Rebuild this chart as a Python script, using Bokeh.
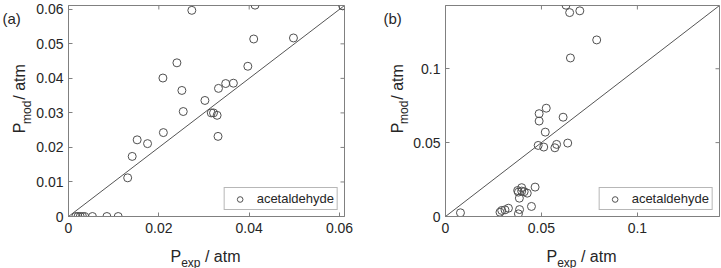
import math
from bokeh.plotting import figure
from bokeh.layouts import row, column
from bokeh.models import Range1d, LinearAxis, FixedTicker, Slope, Legend
from bokeh.core.properties import value
from bokeh.embed import file_html
from bokeh.resources import INLINE

# ---------------- data ----------------
series_name = "acetaldehyde"

# panel (a)
pexp_a = [0.0273, 0.0413, 0.0607, 0.0410, 0.0498, 0.0240, 0.0209, 0.0397, 0.0332, 0.0348,
          0.0365, 0.0251, 0.0302, 0.0254, 0.0316, 0.0321, 0.0329, 0.0331, 0.0210, 0.0152,
          0.0175, 0.0141, 0.0131, 0.0016, 0.0021, 0.0026, 0.0031, 0.0036, 0.0053, 0.0085,
          0.0110]
pmod_a = [0.0597, 0.0612, 0.0610, 0.0514, 0.0517, 0.0445, 0.0401, 0.0435, 0.0371, 0.0385,
          0.0386, 0.0365, 0.0336, 0.0304, 0.0300, 0.0300, 0.0293, 0.0232, 0.0243, 0.0222,
          0.0211, 0.0174, 0.0112, 0.0, 0.0, 0.0, 0.0, 0.0, 0.0, 0.0,
          0.0]
lim_a = 0.0611
xticks_a = [0, 0.02, 0.04, 0.06]
xlabels_a = ["0", "0.02", "0.04", "0.06"]
yticks_a = [0, 0.01, 0.02, 0.03, 0.04, 0.05, 0.06]
ylabels_a = ["0", "0.01", "0.02", "0.03", "0.04", "0.05", "0.06"]

# panel (b)
pexp_b = [0.0628, 0.0647, 0.0700, 0.0788, 0.0651, 0.0525, 0.0488, 0.0488, 0.0613, 0.0520,
          0.0483, 0.0512, 0.0570, 0.0579, 0.0637, 0.0397, 0.0376, 0.0380, 0.0397, 0.0410,
          0.0426, 0.0385, 0.0467, 0.0448, 0.0386, 0.0380, 0.0328, 0.0310, 0.0293, 0.0284,
          0.0078]
pmod_b = [0.1430, 0.1380, 0.1392, 0.1195, 0.1073, 0.0733, 0.0696, 0.0646, 0.0672, 0.0571,
          0.0481, 0.0470, 0.0465, 0.0488, 0.0497, 0.0195, 0.0176, 0.0165, 0.0172, 0.0168,
          0.0158, 0.0124, 0.0199, 0.0068, 0.0047, 0.0018, 0.0056, 0.0045, 0.0041, 0.0029,
          0.0025]
lim_b = 0.1428
ticks_b = [0, 0.05, 0.1]
labels_b = ["0", "0.05", "0.1"]

x_title = ["P", "exp", "/ atm"]
y_title = ["P", "mod", "/ atm"]
panel_tags = ["(a)", "(b)"]

FONT = "Liberation Sans"
TXT = "#262626"
AX = "#808080"
MK = "#505050"

H_MAIN = 241
H_ALL = 268


def blank(width, height, x0, x1, y0, y1):
    f = figure(width=width, height=height, output_backend="svg", toolbar_location=None,
               x_range=Range1d(x0, x1), y_range=Range1d(y0, y1),
               min_border=0, x_axis_type=None, y_axis_type=None,
               background_fill_color="white", border_fill_color="white")
    f.grid.visible = False
    f.outline_line_color = None
    return f


def txt(f, x, y, s, size, angle=0.0):
    f.text(x=[x], y=[y], text=[s], text_font=value(FONT), text_font_size=size,
           text_color=TXT, text_align="left", text_baseline="alphabetic", angle=angle)


def main_panel(xs, ys, lim, xt, xl, yt, yl, width, bl, br):
    p = figure(width=width, height=H_MAIN, output_backend="svg", toolbar_location=None,
               x_range=Range1d(0, lim), y_range=Range1d(0, lim),
               min_border_left=bl, min_border_right=br,
               min_border_top=5, min_border_bottom=H_MAIN - 216,
               background_fill_color="white", border_fill_color="white",
               x_axis_type=None, y_axis_type=None)
    p.grid.visible = False
    p.outline_line_color = AX
    p.outline_line_width = 1

    def axis(ticks, labels, standoff):
        a = LinearAxis(ticker=FixedTicker(ticks=ticks),
                       major_label_overrides={t: s for t, s in zip(ticks, labels)})
        a.axis_line_color = AX
        a.major_tick_line_color = AX
        a.major_tick_in = 4
        a.major_tick_out = 0
        a.minor_tick_line_color = None
        a.major_label_text_font = FONT
        a.major_label_text_font_size = "14px"
        a.major_label_text_color = TXT
        a.major_label_standoff = standoff
        return a

    p.add_layout(axis(xt, xl, 6), "below")
    p.add_layout(axis(yt, yl, 5), "left")

    # inner ticks on the top and right edges of the box
    p.scatter(xt, [lim] * len(xt), marker="dash", size=8, angle=math.pi / 2,
              line_color=AX, line_width=1)
    p.scatter([lim] * len(yt), yt, marker="dash", size=8,
              line_color=AX, line_width=1)

    p.add_layout(Slope(gradient=1, y_intercept=0, line_color="#555555", line_width=1))

    r = p.scatter(xs, ys, marker="circle", size=8, fill_color=None,
                  line_color=MK, line_width=1)
    leg = Legend(items=[(series_name, [r])], location="bottom_right")
    leg.margin = 6
    leg.padding = 3
    leg.spacing = 0
    leg.glyph_width = 24
    leg.glyph_height = 14
    leg.label_height = 14
    leg.label_standoff = 5
    leg.label_text_font = FONT
    leg.label_text_font_size = "13px"
    leg.label_text_color = TXT
    leg.border_line_color = "#707070"
    leg.border_line_width = 1
    p.add_layout(leg, "center")
    return p


def side_strip(x0, w, ylab_x, frame_cy, tag_x, tag):
    # left strip: canvas pixel coordinates (y downward)
    f = blank(w, H_MAIN, x0, x0 + w, H_MAIN, 0)
    wP, wsub, wsp = 10.7, 23.3, 4.4
    wat = 35.6
    total = wP + wsub + wsp + wat
    s = frame_cy + total / 2 - 1.5
    txt(f, ylab_x, s, y_title[0], "16px", math.pi / 2)
    txt(f, ylab_x + 7, s - wP, y_title[1], "12px", math.pi / 2)
    txt(f, ylab_x, s - wP - wsub - wsp, y_title[2], "16px", math.pi / 2)
    txt(f, tag_x, 14.5, tag, "15px")
    return f


def bottom_strip(x0, w, frame_cx):
    f = blank(w, H_ALL - H_MAIN, x0, x0 + w, H_ALL, H_MAIN)
    wP, wsub, wsp, wat = 10.7, 19.3, 4.4, 35.6
    total = wP + wsub + wsp + wat
    s = frame_cx - total / 2
    txt(f, s, 256, x_title[0], "16px")
    txt(f, s + wP, 262, x_title[1], "12px")
    txt(f, s + wP + wsub + wsp, 256, x_title[2], "16px")
    return f


# panel (a): canvas x 0..360, frame 66..344
la = side_strip(0, 33, 19, 110.5, 2, panel_tags[0])
ma = main_panel(pexp_a, pmod_a, lim_a, xticks_a, xlabels_a, yticks_a, ylabels_a,
                327, 66 - 33, 16)
ba = bottom_strip(0, 360, (66 + 344) / 2)

# panel (b): canvas x 360..721, frame 443..719
lb = side_strip(360, 50, 396.5, 110.5, 383, panel_tags[1])
mb = main_panel(pexp_b, pmod_b, lim_b, ticks_b, labels_b, ticks_b, labels_b,
                311, 443 - 410, 2)
bb = bottom_strip(360, 361, (443 + 719) / 2)

layout = row(column(row(la, ma, spacing=0), ba, spacing=0),
             column(row(lb, mb, spacing=0), bb, spacing=0), spacing=0)
open("out.html", "w").write(file_html(layout, INLINE))
